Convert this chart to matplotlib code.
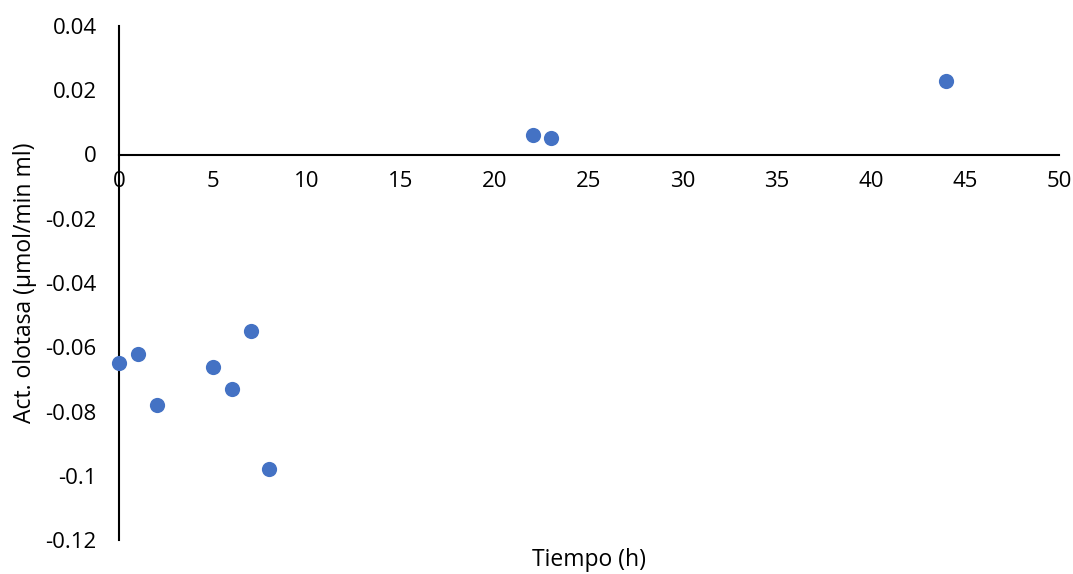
import matplotlib
matplotlib.use("Agg")
import matplotlib.pyplot as plt

# Tiempo (h) vs actividad olotasa
tiempo = [0, 1, 2, 5, 6, 7, 8, 22, 23, 44]
actividad = [-0.065, -0.062, -0.078, -0.066, -0.073, -0.055, -0.098, 0.006, 0.005, 0.023]

x_ticks = [0, 5, 10, 15, 20, 25, 30, 35, 40, 45, 50]
y_ticks = [-0.12, -0.1, -0.08, -0.06, -0.04, -0.02, 0, 0.02, 0.04]
y_labels = ["-0.12", "-0.1", "-0.08", "-0.06", "-0.04", "-0.02", "0", "0.02", "0.04"]

plt.rcParams["font.family"] = ["Open Sans", "DejaVu Sans"]

fig = plt.figure(figsize=(10.73, 5.74), dpi=100)
ax = fig.add_axes([119 / 1073, 34 / 574, 940 / 1073, 514 / 574])

ax.scatter(tiempo, actividad, s=120, color="#4472C4", zorder=3, linewidths=0, clip_on=False)

ax.set_xlim(0, 50)
ax.set_ylim(-0.12, 0.04)
ax.set_xticks(x_ticks)
ax.set_yticks(y_ticks, y_labels)

for side in ["top", "right"]:
    ax.spines[side].set_visible(False)
ax.spines["bottom"].set_position(("data", 0))
ax.spines["left"].set_linewidth(1.5)
ax.spines["bottom"].set_linewidth(1.5)

ax.tick_params(axis="x", length=0, pad=12, labelsize=16)
ax.tick_params(axis="y", length=0, pad=16, labelsize=16)

fig.text(25 / 1073, 1 - 283 / 574, "Act. olotasa (µmol/min ml)", rotation=90,
         ha="center", va="center", fontsize=16.5)
fig.text(589 / 1073, 1 - 560 / 574, "Tiempo (h)", ha="center", va="center", fontsize=16.5)

fig.savefig("out.png", dpi=100)
